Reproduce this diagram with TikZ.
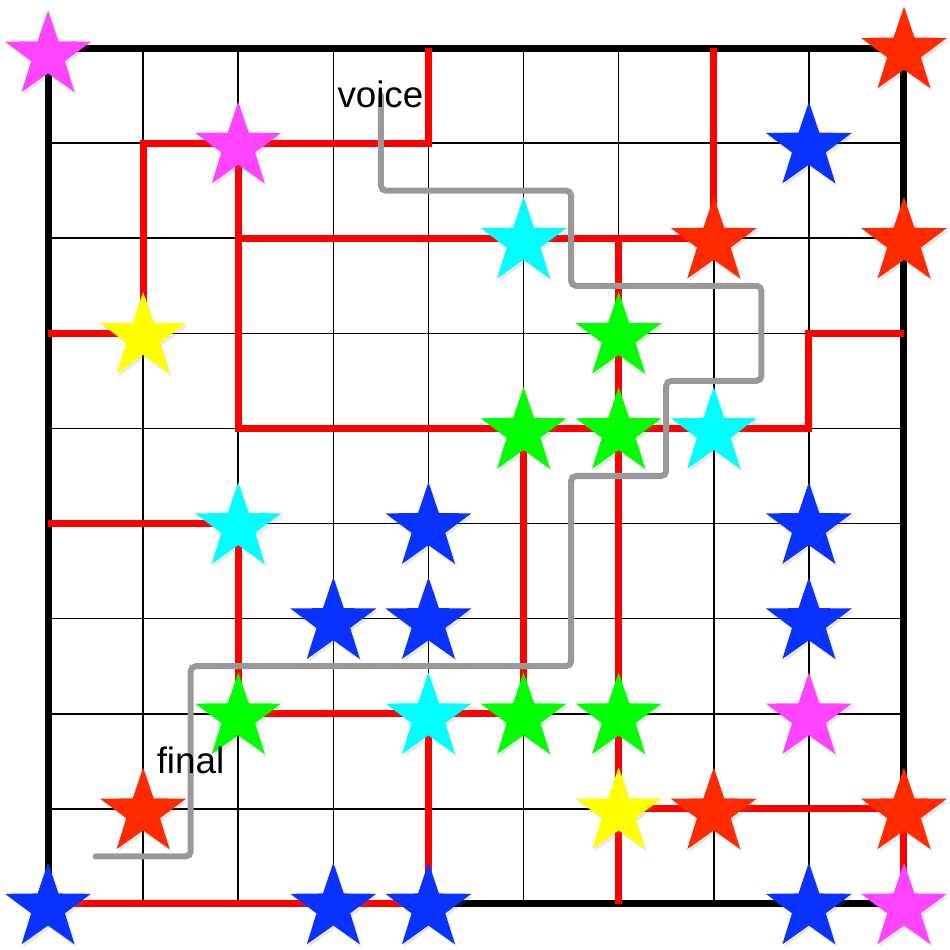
\documentclass[tikz,border=0pt]{standalone}
\usepackage{fontspec}
\setmainfont{Liberation Sans}
\usetikzlibrary{shapes.geometric, shadows}
\definecolor{mag}{HTML}{FF44FF}
\definecolor{org}{HTML}{FF2A00}
\definecolor{blu}{HTML}{0A32FF}
\definecolor{cya}{HTML}{00FFFF}
\definecolor{grn}{HTML}{00FF00}
\definecolor{yel}{HTML}{FFFF00}
\definecolor{rdl}{HTML}{FF0000}
\definecolor{gpl}{HTML}{999999}
\tikzset{
  st/.style   = {star, star points=5, star point ratio=2.55, minimum size=0.95cm,
                 inner sep=0pt, outer sep=0pt, draw=none, yshift=-0.04cm,
                 drop shadow={shadow xshift=0.02cm, shadow yshift=-0.03cm, opacity=0.18}},
  rl/.style   = {draw=rdl, line width=2.1pt},
  gp/.style   = {draw=gpl, line width=1.8pt, line cap=round, rounded corners=1.5pt},
  lab/.style  = {font=\fontsize{11}{13}\selectfont, anchor=base, inner sep=0pt},
}

\begin{document}
\begin{tikzpicture}

  \useasboundingbox (-0.505,0.505) rectangle (9.484,-9.484);

  % ===== grid ===========================================================
  \foreach \i in {0,...,9}
    \foreach \j in {0,...,9}
      \coordinate (p\i\j) at (\i,-\j);

  \draw[line width=0.45pt] (p00) grid (p99);
  \draw[line width=2.1pt] (p00) rectangle (p99);

  % ===== red walls ======================================================
  \draw[rl] (p40) -- (p41) -- (p11) -- (p13);
  \draw[rl] (p03) -- (p13);
  \draw[rl] (p70) -- (p72);
  \draw[rl] (p21) -- (p24) -- (p84) -- (p83) -- (p93);
  \draw[rl] (p22) -- (p72);
  \draw[rl] (p62) -- (p69);
  \draw[rl] (p54) -- (p57);
  \draw[rl] (p05) -- (p25) -- (p27) -- (p57);
  \draw[rl] (p47) -- (p49);
  \draw[rl] (p09) -- (p49);
  \draw[rl] (p68) -- (p98) -- (p99);

  % ===== grey path ======================================================
  \coordinate (vbeg) at (3.5,-0.5);
  \coordinate (fend) at (0.5,-8.5);
  \draw[gp] (vbeg) -- (3.5,-1.5) -- (5.5,-1.5) -- (5.5,-2.5) -- (7.5,-2.5)
            -- (7.5,-3.5) -- (6.5,-3.5) -- (6.5,-4.5) -- (5.5,-4.5)
            -- (5.5,-6.5) -- (1.5,-6.5) -- (1.5,-8.5) -- (fend);

  % ===== stars ==========================================================
  \node[st, fill=mag, yshift=-0.04cm] (s00) at (p00) {};
  \node[st, fill=org] (s90) at (p90) {};
  \node[st, fill=mag] (s21) at (p21) {};
  \node[st, fill=blu] (s81) at (p81) {};
  \node[st, fill=cya] (s52) at (p52) {};
  \node[st, fill=org] (s72) at (p72) {};
  \node[st, fill=org] (s92) at (p92) {};
  \node[st, fill=yel] (s13) at (p13) {};
  \node[st, fill=grn] (s63) at (p63) {};
  \node[st, fill=grn] (s54) at (p54) {};
  \node[st, fill=grn] (s64) at (p64) {};
  \node[st, fill=cya] (s74) at (p74) {};
  \node[st, fill=cya] (s25) at (p25) {};
  \node[st, fill=blu] (s45) at (p45) {};
  \node[st, fill=blu] (s85) at (p85) {};
  \node[st, fill=blu] (s36) at (p36) {};
  \node[st, fill=blu] (s46) at (p46) {};
  \node[st, fill=blu] (s86) at (p86) {};
  \node[st, fill=grn] (s27) at (p27) {};
  \node[st, fill=cya] (s47) at (p47) {};
  \node[st, fill=grn] (s57) at (p57) {};
  \node[st, fill=grn] (s67) at (p67) {};
  \node[st, fill=mag] (s87) at (p87) {};
  \node[st, fill=org] (s18) at (p18) {};
  \node[st, fill=yel] (s68) at (p68) {};
  \node[st, fill=org] (s78) at (p78) {};
  \node[st, fill=org] (s98) at (p98) {};
  \node[st, fill=blu] (s09) at (p09) {};
  \node[st, fill=blu] (s39) at (p39) {};
  \node[st, fill=blu] (s49) at (p49) {};
  \node[st, fill=blu] (s89) at (p89) {};
  \node[st, fill=mag] (s99) at (p99) {};

  % ===== labels =========================================================
  \node[lab] (voice) at (3.495,-0.63) {voice};
  \node[lab] (final) at (1.498,-7.63) {final};

\end{tikzpicture}
\end{document}
